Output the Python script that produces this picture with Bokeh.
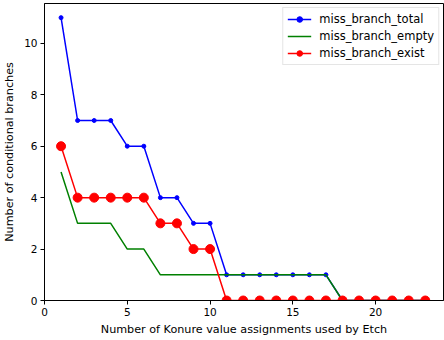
from bokeh.plotting import figure
from bokeh.models import Range1d, Legend, LegendItem, FixedTicker
from bokeh.embed import file_html
from bokeh.resources import INLINE

# Konure value assignments used by Etch
x = list(range(1, 24))
# Missing conditional branches per assignment count
miss_branch_total = [11, 7, 7, 7, 6, 6, 4, 4, 3, 3, 1, 1, 1, 1, 1, 1, 1, 0, 0, 0, 0, 0, 0]
miss_branch_empty = [5, 3, 3, 3, 2, 2, 1, 1, 1, 1, 1, 1, 1, 1, 1, 1, 1, 0, 0, 0, 0, 0, 0]
miss_branch_exist = [6, 4, 4, 4, 4, 4, 3, 3, 2, 2, 0, 0, 0, 0, 0, 0, 0, 0, 0, 0, 0, 0, 0]

x_ticks = [0, 5, 10, 15, 20]
y_ticks = [0, 2, 4, 6, 8, 10]

FONT = "DejaVu Sans"

p = figure(width=444, height=340, output_backend="svg", toolbar_location=None,
           x_range=Range1d(0, 24.1), y_range=Range1d(0, 11.55),
           min_border_left=44, min_border_right=1, min_border_top=3, min_border_bottom=40)
p.grid.visible = False
p.outline_line_color = "black"
p.outline_line_width = 1
p.background_fill_color = "white"
p.border_fill_color = "white"

for ax in (p.xaxis[0], p.yaxis[0]):
    ax.major_tick_in = 0
    ax.major_tick_out = 4
    ax.minor_tick_line_color = None
    ax.axis_line_color = "black"
    ax.major_tick_line_color = "black"
    ax.major_label_text_font = FONT
    ax.major_label_text_font_size = "10.5px"
    ax.major_label_text_color = "black"
    ax.axis_label_text_font = FONT
    ax.axis_label_text_font_size = "11.2px"
    ax.axis_label_text_font_style = "normal"
    ax.axis_label_text_color = "black"

p.xaxis.ticker = FixedTicker(ticks=x_ticks)
p.yaxis.ticker = FixedTicker(ticks=y_ticks)
p.xaxis.axis_label = "Number of Konure value assignments used by Etch"
p.yaxis.axis_label = "Number of conditional branches"
p.xaxis.major_label_standoff = 3
p.yaxis.major_label_standoff = 3
p.xaxis.axis_label_standoff = 4
p.yaxis.axis_label_standoff = 5

l1 = p.line(x, miss_branch_total, color="#0000ff", line_width=1.5)
s1 = p.scatter(x, miss_branch_total, color="#0000ff", size=4)
l2 = p.line(x, miss_branch_empty, color="#008000", line_width=1.5)
l3 = p.line(x, miss_branch_exist, color="#ff0000", line_width=1.5)
s3 = p.scatter(x, miss_branch_exist, color="#ff0000", size=9)

legend = Legend(items=[
    LegendItem(label="miss_branch_total", renderers=[l1, s1]),
    LegendItem(label="miss_branch_empty", renderers=[l2]),
    LegendItem(label="miss_branch_exist", renderers=[l3, s3]),
], location="top_right")
legend.label_text_font = FONT
legend.label_text_font_size = "11.5px"
legend.label_text_color = "black"
legend.border_line_color = "#cccccc"
legend.border_line_width = 1
legend.background_fill_alpha = 0.8
legend.glyph_width = 24
legend.glyph_height = 14
legend.label_height = 14
legend.spacing = 3
legend.padding = 4
legend.margin = 4
legend.label_standoff = 8
p.add_layout(legend, "center")

open("out.html", "w").write(file_html(p, INLINE))
